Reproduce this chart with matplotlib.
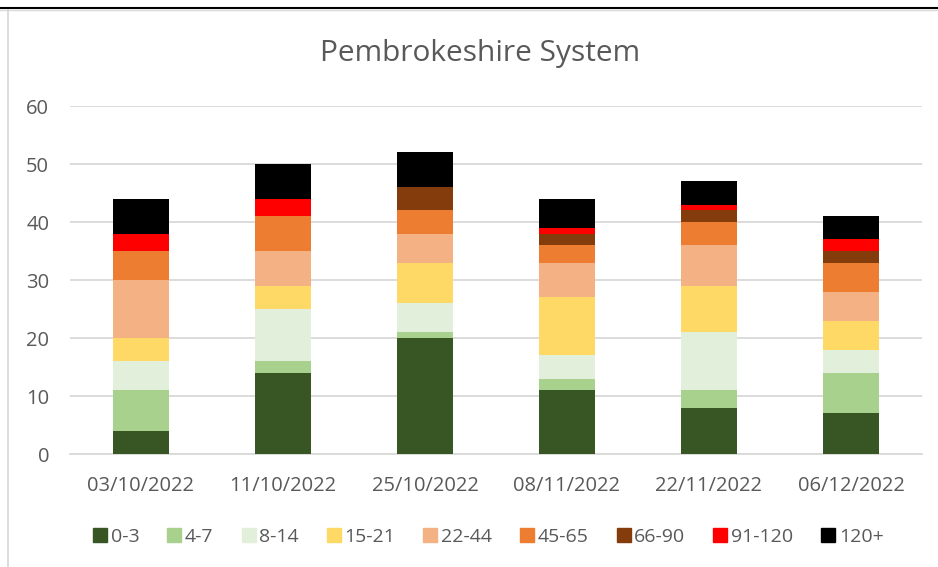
import numpy as np
import matplotlib
matplotlib.use('Agg')
import matplotlib.pyplot as plt
from matplotlib.lines import Line2D

# ================================== 数据 ==================================
dates = ['03/10/2022', '11/10/2022', '25/10/2022', '08/11/2022', '22/11/2022', '06/12/2022']
bands = ['0-3', '4-7', '8-14', '15-21', '22-44', '45-65', '66-90', '91-120', '120+']

d_0_3 = [4, 14, 20, 11, 8, 7]
d_4_7 = [7, 2, 1, 2, 3, 7]
d_8_14 = [5, 9, 5, 4, 10, 4]
d_15_21 = [4, 4, 7, 10, 8, 5]
d_22_44 = [10, 6, 5, 6, 7, 5]
d_45_65 = [5, 6, 4, 3, 4, 5]
d_66_90 = [0, 0, 4, 2, 2, 2]
d_91_120 = [3, 3, 0, 1, 1, 2]
d_120p = [6, 6, 6, 5, 4, 4]
series = [d_0_3, d_4_7, d_8_14, d_15_21, d_22_44, d_45_65, d_66_90, d_91_120, d_120p]

colors = ['#375623', '#A9D18E', '#E2EFDA', '#FFD966', '#F4B183',
          '#ED7D31', '#843C0C', '#FF0000', '#000000']

# ================================== 绘图 ==================================
plt.rcParams['font.family'] = ['Open Sans', 'DejaVu Sans']
txt = '#595959'

fig = plt.figure(figsize=(9.38, 5.67), dpi=100)
ax = fig.add_axes([70 / 938, 1 - 454 / 567, 852 / 938, 348 / 567])

x = np.arange(len(dates))
bottom = np.zeros(len(dates))
for vals, c, lab in zip(series, colors, bands):
    ax.bar(x, vals, width=0.4, bottom=bottom, color=c, label=lab, zorder=3)
    bottom += np.array(vals)

ax.set_xlim(-0.5, len(dates) - 0.5)
ax.set_ylim(0, 60)
ax.set_yticks(np.arange(0, 61, 10))
ax.set_xticks(x)
ax.set_xticklabels(dates)
ax.grid(axis='y', color='#d9d9d9', linewidth=1.3, zorder=0)
for s in ['top', 'right', 'left']:
    ax.spines[s].set_visible(False)
ax.spines['bottom'].set_color('#d9d9d9')
ax.spines['bottom'].set_linewidth(1.3)
ax.tick_params(axis='both', length=0, labelsize=14.5, colors=txt)
ax.tick_params(axis='x', pad=16)
ax.tick_params(axis='y', pad=15)

fig.text(480 / 938, 1 - 53 / 567, 'Pembrokeshire System', ha='center', va='center',
         fontsize=21.5, color=txt)

# 图例
handles = [Line2D([], [], marker='s', linestyle='none', markersize=10,
                  markerfacecolor=c, markeredgecolor=c) for c in colors]
fig.legend(handles, bands, loc='center', bbox_to_anchor=(487 / 938, 1 - 537 / 567),
           ncol=9, frameon=False, fontsize=14, labelcolor=txt, handletextpad=0.05,
           columnspacing=1.3, handlelength=1.0)

# 边框
fig.add_artist(Line2D([0, 1], [1 - 8 / 567] * 2, color='black', linewidth=1.5))
fig.add_artist(Line2D([0, 1], [1 - 10 / 567] * 2, color='#d9d9d9', linewidth=1))
fig.add_artist(Line2D([8 / 938] * 2, [0, 1 - 10 / 567], color='#d9d9d9', linewidth=1.3))

plt.savefig('out.png', dpi=100)
